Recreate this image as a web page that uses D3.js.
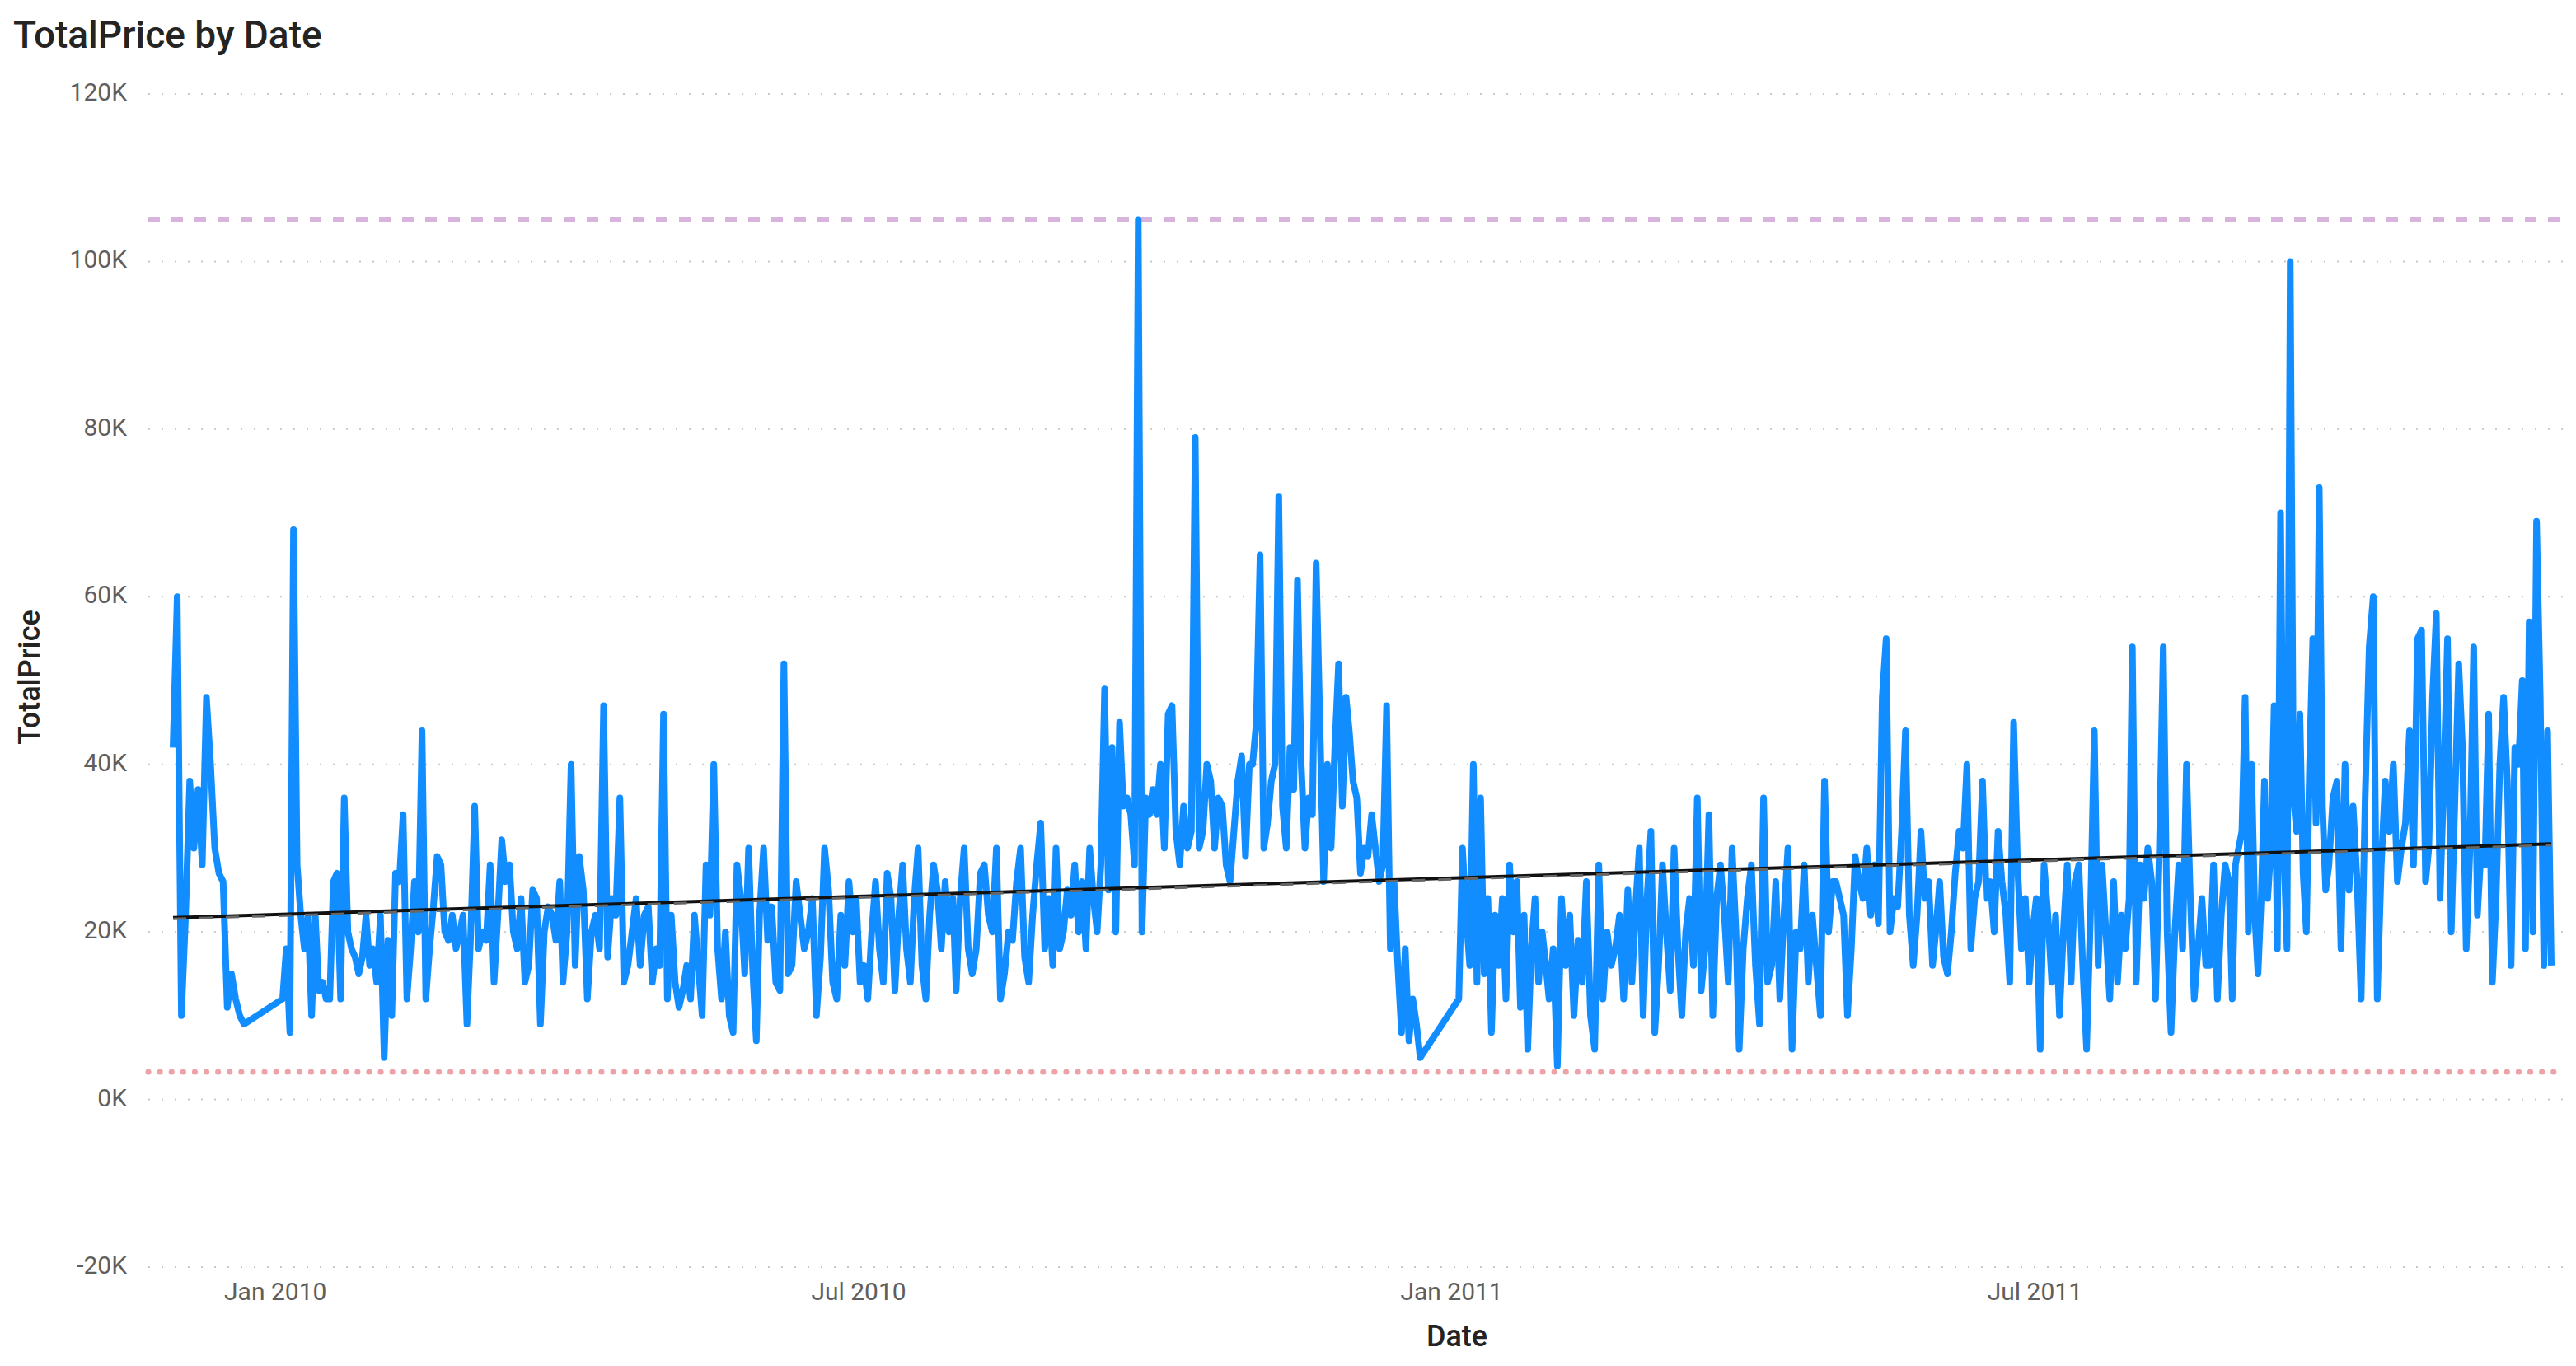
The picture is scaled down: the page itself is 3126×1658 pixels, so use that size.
<!DOCTYPE html>
<html><head><meta charset="utf-8">
<script src="https://cdn.jsdelivr.net/npm/d3@7"></script>
<style>body{margin:0;background:#fff;}svg{display:block;}</style>
</head><body>
<svg id="c" width="3126" height="1658"></svg>
<script>
// Month spans [start, end] of sales days and daily TotalPrice values (in K)
const monthSpans = [
 ["2009-12-01","2009-12-23"],["2010-01-04","2010-01-31"],["2010-02-01","2010-02-28"],["2010-03-01","2010-03-31"],
 ["2010-04-01","2010-04-30"],["2010-05-01","2010-05-31"],["2010-06-01","2010-06-30"],["2010-07-01","2010-07-31"],
 ["2010-08-01","2010-08-31"],["2010-09-01","2010-09-30"],["2010-10-01","2010-10-31"],["2010-11-01","2010-11-30"],
 ["2010-12-01","2010-12-23"],["2011-01-04","2011-01-31"],["2011-02-01","2011-02-28"],["2011-03-01","2011-03-31"],
 ["2011-04-01","2011-04-30"],["2011-05-01","2011-05-31"],["2011-06-01","2011-06-30"],["2011-07-01","2011-07-31"],
 ["2011-08-01","2011-08-31"],["2011-09-01","2011-09-30"],["2011-10-01","2011-10-31"],["2011-11-01","2011-11-30"],
 ["2011-12-01","2011-12-09"]
];
const monthValues = [
 [42,60,10,22,38,30,37,28,48,40,30,27,26,11,15,12,10,9],
 [12,18,8,68,28,22,18,22,10,22,13,14,12,12,26,27,12,36,20,18,17,15,17,22,16],
 [18,14,22,5,19,10,27,26,34,12,18,26,20,44,12,18,23,29,28,20,19,22,18,20],
 [22,9,20,35,18,20,19,28,14,22,31,26,28,20,18,24,14,16,25,24,9,20,23,22,19,26],
 [14,20,40,16,29,25,12,20,22,18,47,17,24,22,36,14,16,20,24,16,22,23,14,18],
 [16,46,12,22,14,11,13,16,12,22,16,10,28,22,40,18,12,20,10,8,28,24,15,30,16,7],
 [22,30,19,23,14,13,52,15,16,26,22,18,20,24,10,17,30,25,14,12,22,16,26,20],
 [24,14,16,12,20,26,18,14,27,24,13,22,28,18,14,24,30,16,12,22,28,25,18,26,20,24],
 [13,24,30,18,15,18,27,28,22,20,30,12,15,20,19,26,30,17,14,22,28,33,18,24,16],
 [30,18,20,25,22,28,20,26,18,30,24,20,28,49,25,42,20,45,35,36,34,28,105,20,36,34],
 [37,34,40,30,46,47,32,28,35,30,32,79,30,32,40,38,30,36,35,28,26,32,38,41,29,40],
 [40,45,65,30,33,38,40,72,35,30,42,37,62,40,30,36,34,64,45,26,40,30,42,52,35,48],
 [44,38,36,27,30,29,34,30,26,28,47,18,26,16,8,18,7,12,9,5],
 [12,30,22,16,40,14,36,15,24,8,22,16,24,12,28,20,26,11,22,6,18,24,14,20,16],
 [12,18,4,24,16,22,10,19,14,26,10,6,28,12,20,16,18,22,12,25,14,24],
 [30,10,24,32,8,16,28,20,13,30,18,10,20,24,16,36,13,18,34,10,24,28,22,14,30,20],
 [6,18,24,28,16,9,36,14,16,26,12,22,30,6,20,18,28,14,22,16,10,38,20,26],
 [26,24,22,10,18,29,26,24,30,22,28,21,48,55,20,24,23,32,44,22,16,22,32,24,26,16],
 [20,26,17,15,20,27,32,30,40,18,24,26,38,24,26,20,32,26,22,14,45,28,18,24,14],
 [20,24,6,28,22,14,22,10,20,28,14,26,28,16,6,22,44,16,28,20,12,26,14,22,18,24],
 [54,14,28,24,30,26,12,30,54,20,8,20,28,18,40,24,12,18,24,16,16,28,12,22,28,26],
 [12,28,30,32,48,20,40,22,15,24,38,24,30,47,18,70,30,18,100,36,32,46,27,20,40,55,33,73,35,25],
 [28,36,38,18,40,25,35,26,12,36,54,60,12,28,38,32,40,26,30,33,44,28,55,56,26],
 [30,48,58,24,38,55,20,36,52,42,18,30,54,22,30,28,46,14,24,40,48,38,16,42,40,50],
 [18,57,20,69,48,16,44,16]
];
const yTicks = [-20,0,20,40,60,80,100,120];
const xTickDates = ["2010-01-01","2010-07-01","2011-01-01","2011-07-01"];
const xTickLabels = ["Jan 2010","Jul 2010","Jan 2011","Jul 2011"];
const trendValues = [21.7, 30.5];
const minLineValue = 3.3;
const maxLineValue = 105;

const parse = d3.utcParse("%Y-%m-%d");
const data = [];
monthSpans.forEach((s,mi)=>{
  const a = parse(s[0]), b = parse(s[1]);
  const vals = monthValues[mi], n = vals.length;
  const span = (b - a);
  vals.forEach((v,i)=>{
    const t = n===1 ? +a : +a + span * i/(n-1);
    data.push({d:new Date(t), v:v});
  });
});

const svg = d3.select("#c");
const L = 180, R = 3110;
const x = d3.scaleUtc().domain([parse("2009-12-01"), parse("2011-12-09")]).range([210, 3096]);
const y = d3.scaleLinear().domain([-20,120]).range([1538,114]);
const font = "Roboto, 'Open Sans', sans-serif";

svg.append("text").attr("x",16).attr("y",58).attr("font-family",font).attr("font-weight",500)
  .attr("font-size",46).attr("fill","#252423").text("TotalPrice by Date");

// grid + y ticks
const gy = svg.append("g");
yTicks.forEach(t=>{
  gy.append("line").attr("x1",L).attr("x2",R).attr("y1",y(t)).attr("y2",y(t))
    .attr("stroke","#c8c8c8").attr("stroke-width",2).attr("stroke-dasharray","2,14");
  gy.append("text").attr("x",154).attr("y",y(t)+8).attr("text-anchor","end")
    .attr("font-family",font).attr("font-size",30).attr("fill","#605e5c").text(t+"K");
});
xTickDates.forEach((d,i)=>{
  svg.append("text").attr("x",x(parse(d))+3).attr("y",1578).attr("text-anchor","middle")
    .attr("font-family",font).attr("font-size",30).attr("fill","#605e5c").text(xTickLabels[i]);
});
svg.append("text").attr("x",1768).attr("y",1634).attr("text-anchor","middle").attr("font-family",font)
  .attr("font-weight",500).attr("font-size",36).attr("fill","#252423").text("Date");
svg.append("text").attr("transform","translate(48,822) rotate(-90)").attr("text-anchor","middle")
  .attr("font-family",font).attr("font-weight",500).attr("font-size",36).attr("fill","#252423").text("TotalPrice");

// max / min lines
svg.append("line").attr("x1",L).attr("x2",R).attr("y1",y(maxLineValue)).attr("y2",y(maxLineValue))
  .attr("stroke","#d8b4dc").attr("stroke-width",7).attr("stroke-dasharray","14,14");
svg.append("line").attr("x1",L).attr("x2",R).attr("y1",y(minLineValue)).attr("y2",y(minLineValue))
  .attr("stroke","#eba3a8").attr("stroke-width",7).attr("stroke-linecap","round").attr("stroke-dasharray","0.1,14");

// series
svg.append("path").datum(data).attr("fill","none").attr("stroke","#118DFF").attr("stroke-width",8)
  .attr("stroke-linejoin","round")
  .attr("d", d3.line().x(d=>x(d.d)).y(d=>y(d.v)));

// trend line
const tx = x.domain();
svg.append("line").attr("x1",x(tx[0])).attr("x2",x(tx[1])).attr("y1",y(trendValues[0])).attr("y2",y(trendValues[1]))
  .attr("stroke","#111").attr("stroke-width",4);
svg.append("line").attr("x1",x(tx[0])).attr("x2",x(tx[1])).attr("y1",y(trendValues[0])+1.5).attr("y2",y(trendValues[1])+1.5)
  .attr("stroke","#666").attr("stroke-width",3).attr("stroke-dasharray","16,16");
</script>
</body></html>
